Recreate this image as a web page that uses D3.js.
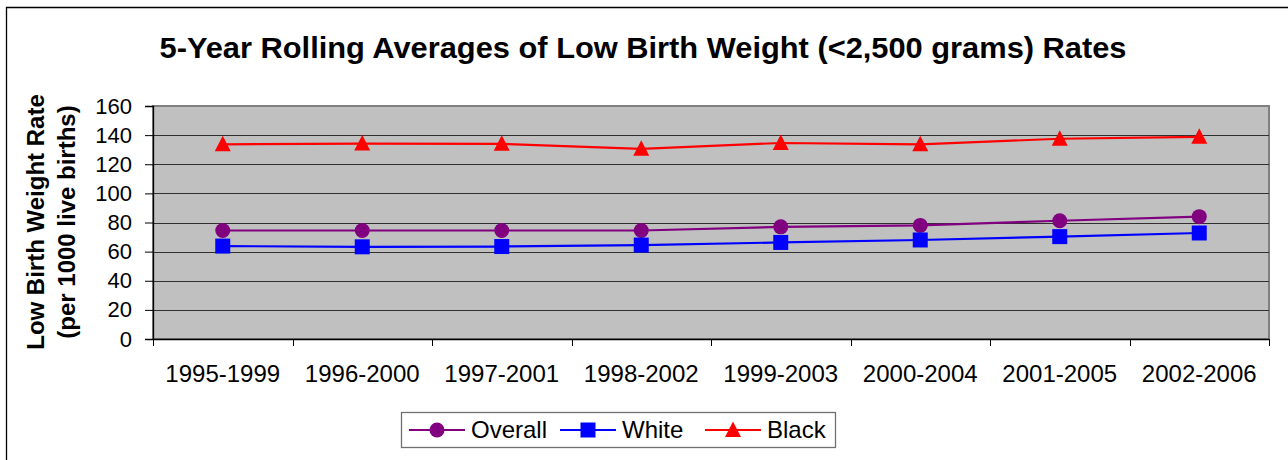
<!DOCTYPE html>
<html>
<head>
<meta charset="utf-8">
<title>Low Birth Weight</title>
<script src="https://cdn.jsdelivr.net/npm/d3@7"></script>
<style>
  body { margin: 0; background: #fff; }
  svg text { font-family: "Liberation Sans", Arial, sans-serif; fill: #000; }
  .grid line { stroke: #303030; stroke-width: 1; }
</style>
</head>
<body>
<script>
// data
var periods = ["1995-1999", "1996-2000", "1997-2001", "1998-2002", "1999-2003", "2000-2004", "2001-2005", "2002-2006"];
var overall = [74.5, 74.5, 74.5, 74.5, 77, 78, 81.2, 84];
var white = [63.8, 63.3, 63.5, 64.5, 66.3, 68, 70.3, 72.8];
var black = [133.7, 134.2, 134, 130.6, 134.6, 133.7, 137.5, 138.8];
var yTicks = [0, 20, 40, 60, 80, 100, 120, 140, 160];

var series = [
  { name: "Overall", values: overall, color: "#800080", shape: "circle" },
  { name: "White", values: white, color: "#0000ff", shape: "square" },
  { name: "Black", values: black, color: "#ff0000", shape: "triangle" }
];

var W = 1288, H = 460;
var pLeft = 153, pRight = 1269, pTop = 106, pBottom = 339;

var svg = d3.select("body").append("svg")
  .attr("width", W).attr("height", H);

// outer frame
svg.append("path")
  .attr("d", "M6.5," + H + "V7.5H" + W)
  .attr("fill", "none").attr("stroke", "#000").attr("stroke-width", 1.3);

svg.append("text")
  .attr("x", 643).attr("y", 58)
  .attr("text-anchor", "middle")
  .attr("textLength", 967).attr("lengthAdjust", "spacingAndGlyphs")
  .style("font-weight", "bold").style("font-size", "29px")
  .text("5-Year Rolling Averages of Low Birth Weight (<2,500 grams) Rates");

var x = d3.scaleBand().domain(periods).range([pLeft, pRight]);
var y = d3.scaleLinear().domain([0, 160]).range([pBottom, pTop]);

// plot area
svg.append("rect")
  .attr("x", pLeft).attr("y", pTop)
  .attr("width", pRight - pLeft).attr("height", pBottom - pTop)
  .attr("fill", "#c0c0c0").attr("stroke", "#808080").attr("stroke-width", 2);

svg.append("g").attr("class", "grid")
  .selectAll("line")
  .data(yTicks.filter(function (d) { return d > 0 && d < 160; }))
  .enter().append("line")
  .attr("x1", pLeft).attr("x2", pRight)
  .attr("y1", function (d) { return Math.round(y(d)) + 0.5; })
  .attr("y2", function (d) { return Math.round(y(d)) + 0.5; });

// y axis
var yAxis = svg.append("g")
  .attr("transform", "translate(" + pLeft + ",0)")
  .call(d3.axisLeft(y).tickValues(yTicks).tickSize(8).tickPadding(13));
yAxis.select(".domain").attr("stroke", "#000").attr("stroke-width", 1.3);
yAxis.selectAll(".tick text").style("font-size", "22px");

// x axis, ticks on band boundaries
var xAxis = svg.append("g")
  .attr("transform", "translate(0," + pBottom + ")")
  .call(d3.axisBottom(x).tickSize(0));
xAxis.select(".domain").attr("stroke", "#000").attr("stroke-width", 1.3);
xAxis.selectAll(".tick text").style("font-size", "24px").attr("y", 43).attr("dy", 0);
xAxis.selectAll(".bnd")
  .data(periods.concat(["end"]))
  .enter().append("line")
  .attr("x1", function (d, i) { return Math.round(pLeft + i * x.step()) + 0.5; })
  .attr("x2", function (d, i) { return Math.round(pLeft + i * x.step()) + 0.5; })
  .attr("y1", 0).attr("y2", 7)
  .attr("stroke", "#000");

// y title
var yt = svg.append("text")
  .attr("transform", "translate(44,222) rotate(-90)")
  .attr("text-anchor", "middle")
  .style("font-weight", "bold").style("font-size", "24px");
yt.append("tspan").attr("x", 0).attr("dy", 0).text("Low Birth Weight Rate");
yt.append("tspan").attr("x", 0).attr("dy", 31).text("(per 1000 live births)");

var line = d3.line()
  .x(function (d, i) { return x(periods[i]) + x.bandwidth() / 2; })
  .y(function (d) { return y(d); });

function marker(g, shape, color) {
  if (shape === "circle") {
    g.append("circle").attr("r", 7.5).attr("fill", color);
  } else if (shape === "square") {
    g.append("rect").attr("x", -7.5).attr("y", -7.5).attr("width", 15).attr("height", 15).attr("fill", color);
  } else {
    g.append("path").attr("d", "M0,-8.5L8,7L-8,7Z").attr("fill", color);
  }
}

series.forEach(function (s) {
  svg.append("path")
    .datum(s.values)
    .attr("d", line)
    .attr("fill", "none").attr("stroke", s.color).attr("stroke-width", 2.2);
  svg.selectAll(null)
    .data(s.values)
    .enter().append("g")
    .attr("transform", function (d, i) {
      return "translate(" + (x(periods[i]) + x.bandwidth() / 2) + "," + y(d) + ")";
    })
    .each(function () { marker(d3.select(this), s.shape, s.color); });
});

// legend
var legend = svg.append("g");
legend.append("rect")
  .attr("x", 401.5).attr("y", 412.5).attr("width", 434).attr("height", 35)
  .attr("fill", "#fff").attr("stroke", "#707070").attr("stroke-width", 1.3);
var legendX = [409, 560, 705];
series.forEach(function (s, i) {
  var g = legend.append("g").attr("transform", "translate(" + legendX[i] + ",430)");
  g.append("line").attr("x1", 0).attr("x2", 56).attr("stroke", s.color).attr("stroke-width", 2.2);
  marker(g.append("g").attr("transform", "translate(28,0)"), s.shape, s.color);
  g.append("text").attr("x", 62).attr("dy", "0.35em")
    .style("font-size", "24px").text(s.name);
});
</script>
</body>
</html>
